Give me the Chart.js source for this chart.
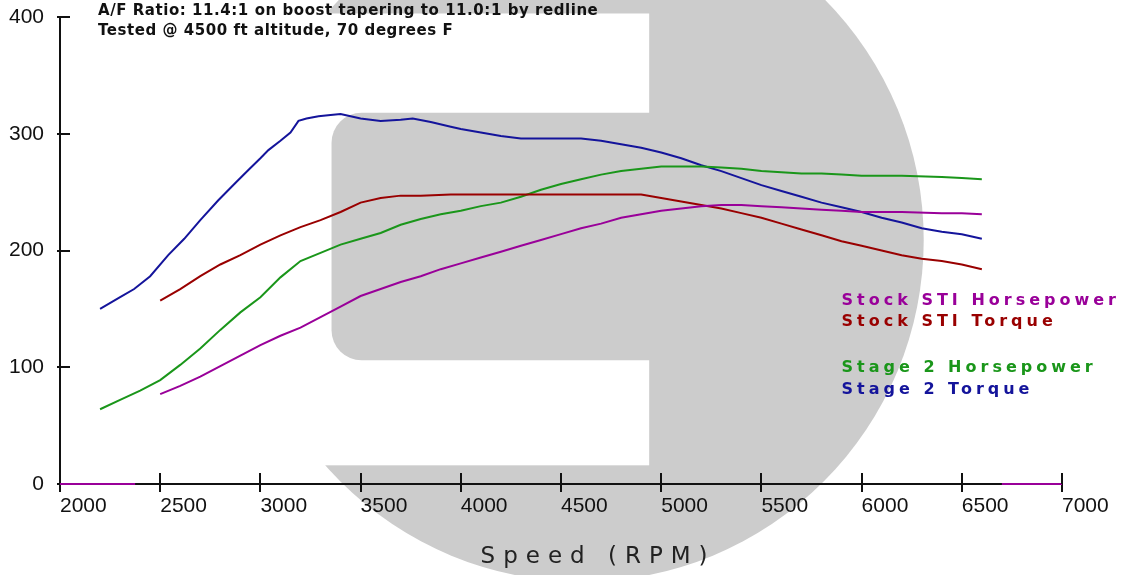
<!DOCTYPE html>
<html>
<head>
<meta charset="utf-8">
<script src="https://cdn.jsdelivr.net/npm/chart.js@4.4.1/dist/chart.umd.min.js"></script>
<style>
  html, body { margin: 0; padding: 0; background: #fff; }
  #wrap { width: 1125px; height: 575px; position: relative; }
</style>
</head>
<body>
<div id="wrap"><canvas id="dyno"></canvas></div>
<script>
// dyno readings, rpm vs hp / lb-ft
var stockHpRpm = [2500,2600,2700,2800,2900,3000,3100,3200,3300,3400,3500,3600,3700,3800,3900,4000,4100,4200,4300,4400,4500,4600,4700,4800,4900,5000,5100,5200,5300,5400,5500,5600,5700,5800,5900,6000,6200,6400,6500,6600];
var stockHp    = [77,84,92,101,110,119,127,134,143,152,161,167,173,178,184,189,194,199,204,209,214,219,223,228,231,234,236,238,239,239,238,237,236,235,234,233,233,232,232,231];
// stock hp trace also sits on the baseline outside the run
var stockHpZeroLeft  = [2000, 2375];
var stockHpZeroRight = [6700, 7000];

var stockTqRpm = [2500,2600,2700,2800,2900,3000,3100,3200,3300,3400,3500,3600,3700,3800,3950,4100,4300,4500,4700,4900,5000,5100,5200,5300,5400,5500,5600,5700,5800,5900,6000,6100,6200,6300,6400,6500,6600];
var stockTq    = [157,167,178,188,196,205,213,220,226,233,241,245,247,247,248,248,248,248,248,248,245,242,239,236,232,228,223,218,213,208,204,200,196,193,191,188,184];

var stage2HpRpm = [2200,2300,2400,2500,2600,2700,2800,2900,3000,3100,3200,3300,3400,3500,3600,3700,3800,3900,4000,4100,4200,4300,4400,4500,4600,4700,4800,4900,5000,5100,5200,5300,5400,5500,5600,5700,5800,5900,6000,6200,6400,6500,6600];
var stage2Hp    = [64,72,80,89,102,116,132,147,160,177,191,198,205,210,215,222,227,231,234,238,241,246,252,257,261,265,268,270,272,272,272,271,270,268,267,266,266,265,264,264,263,262,261];

var stage2TqRpm = [2200,2300,2370,2450,2540,2620,2700,2790,2870,2940,3000,3040,3100,3150,3190,3230,3290,3350,3400,3450,3500,3600,3700,3760,3850,3950,4000,4100,4200,4300,4450,4600,4700,4800,4900,5000,5100,5200,5300,5400,5500,5600,5700,5800,5900,6000,6100,6200,6300,6400,6500,6600];
var stage2Tq    = [150,160,167,178,196,210,226,243,257,269,279,286,294,301,311,313,315,316,317,315,313,311,312,313,310,306,304,301,298,296,296,296,294,291,288,284,279,273,268,262,256,251,246,241,237,233,228,224,219,216,214,210];

var noteLines = ['A/F Ratio: 11.4:1 on boost tapering to 11.0:1 by redline',
                 'Tested @ 4500 ft altitude, 70 degrees F'];
var axisTitle = 'Speed (RPM)';

function pts(xs, ys) {
  var out = [];
  for (var i = 0; i < xs.length; i++) out.push({x: xs[i], y: ys[i]});
  return out;
}

var stockHpData = pts(stockHpZeroLeft, [0, 0])
  .concat([{x: 2440, y: null}], pts(stockHpRpm, stockHp), [{x: 6650, y: null}])
  .concat(pts(stockHpZeroRight, [0, 0]));

// grey logo behind the plot
var watermark = {
  id: 'watermark',
  beforeDraw: function(chart) {
    var ctx = chart.ctx, xs = chart.scales.x, ys = chart.scales.y;
    ctx.save();
    ctx.fillStyle = '#cccccc';
    var cx = xs.getPixelForValue(4605), cy = ys.getPixelForValue(209);
    var r = xs.getPixelForValue(4605 + 1705) - cx;
    ctx.beginPath();
    ctx.arc(cx, cy, r, 0, Math.PI * 2);
    ctx.fill();
    var cutX = xs.getPixelForValue(4940);
    var cutTop = ys.getPixelForValue(403), cutBot = ys.getPixelForValue(16);
    ctx.fillStyle = '#ffffff';
    ctx.fillRect(0, cutTop, cutX, cutBot - cutTop);
    var bx = xs.getPixelForValue(3355);
    var bTop = ys.getPixelForValue(318), bBot = ys.getPixelForValue(106);
    ctx.fillStyle = '#cccccc';
    ctx.beginPath();
    ctx.roundRect(bx, bTop, cutX + 20 - bx, bBot - bTop, [30, 0, 0, 30]);
    ctx.fill();
    ctx.restore();
  }
};

var labels = {
  id: 'labels',
  afterDraw: function(chart) {
    var ctx = chart.ctx, xs = chart.scales.x, ys = chart.scales.y, a = chart.chartArea;
    ctx.save();
    // inner halves of the tick marks
    ctx.strokeStyle = '#111';
    ctx.lineWidth = 2;
    ctx.beginPath();
    xs.ticks.forEach(function(t) {
      if (t.value <= xs.min) return;
      var px = Math.round(xs.getPixelForValue(t.value));
      ctx.moveTo(px, a.bottom); ctx.lineTo(px, a.bottom - 11);
    });
    ys.ticks.forEach(function(t) {
      if (t.value <= ys.min) return;
      var py = Math.round(ys.getPixelForValue(t.value));
      ctx.moveTo(a.left, py); ctx.lineTo(a.left + 10, py);
    });
    ctx.stroke();

    // test notes
    ctx.fillStyle = '#111';
    ctx.font = 'bold 15px "DejaVu Sans"';
    ctx.letterSpacing = '0.55px';
    ctx.textAlign = 'left';
    ctx.textBaseline = 'alphabetic';
    ctx.fillText(noteLines[0], a.left + 38, a.top - 2);
    ctx.fillText(noteLines[1], a.left + 38, a.top + 18);

    // series key
    var lx = xs.getPixelForValue(5900), ly = ys.getPixelForValue(153);
    var offs = [0, 21, 67, 89];
    ctx.font = 'bold 16px "DejaVu Sans"';
    ctx.letterSpacing = '4px';
    chart.data.datasets.forEach(function(ds, i) {
      ctx.fillStyle = ds.borderColor;
      ctx.fillText(ds.label, lx, ly + offs[i]);
    });

    // x axis title
    ctx.fillStyle = '#222';
    ctx.font = '23px "DejaVu Sans"';
    ctx.letterSpacing = '8px';
    ctx.textAlign = 'center';
    ctx.fillText(axisTitle, xs.getPixelForValue(4665) + 4, chart.height - 12);
    ctx.restore();
  }
};

var tickFont = { family: '"Liberation Sans", Arial, sans-serif', size: 21 };

new Chart(document.getElementById('dyno'), {
  type: 'line',
  data: {
    datasets: [
      { label: 'Stock STI Horsepower', data: stockHpData, borderColor: '#990099' },
      { label: 'Stock STI Torque', data: pts(stockTqRpm, stockTq), borderColor: '#990000' },
      { label: 'Stage 2 Horsepower', data: pts(stage2HpRpm, stage2Hp), borderColor: '#1a961a' },
      { label: 'Stage 2 Torque', data: pts(stage2TqRpm, stage2Tq), borderColor: '#14149b' }
    ]
  },
  options: {
    responsive: true,
    maintainAspectRatio: false,
    animation: false,
    spanGaps: false,
    clip: false,
    layout: { padding: { top: 17, right: 63, left: 0, bottom: 0 } },
    elements: {
      point: { radius: 0 },
      line: { borderWidth: 2, tension: 0, fill: false }
    },
    plugins: { legend: { display: false }, tooltip: { enabled: false } },
    scales: {
      x: {
        type: 'linear', min: 2000, max: 7000,
        ticks: {
          stepSize: 500, align: 'start', maxRotation: 0, autoSkip: false,
          color: '#111', font: tickFont, padding: 2,
          callback: function(v) { return String(v); }
        },
        grid: { drawOnChartArea: false, tickLength: 8, color: '#111', lineWidth: 2 },
        border: { color: '#111', width: 2 },
        afterFit: function(s) { s.height = 91; s.paddingLeft = 0; s.paddingRight = 0; }
      },
      y: {
        min: 0, max: 400,
        ticks: {
          stepSize: 100, color: '#111', font: tickFont, padding: 13,
          callback: function(v) { return String(v); }
        },
        grid: { drawOnChartArea: false, tickLength: 3, color: '#111', lineWidth: 2 },
        border: { color: '#111', width: 2 },
        afterFit: function(s) { s.width = 60; s.paddingTop = 0; s.paddingBottom = 0; }
      }
    }
  },
  plugins: [watermark, labels]
});
</script>
</body>
</html>
